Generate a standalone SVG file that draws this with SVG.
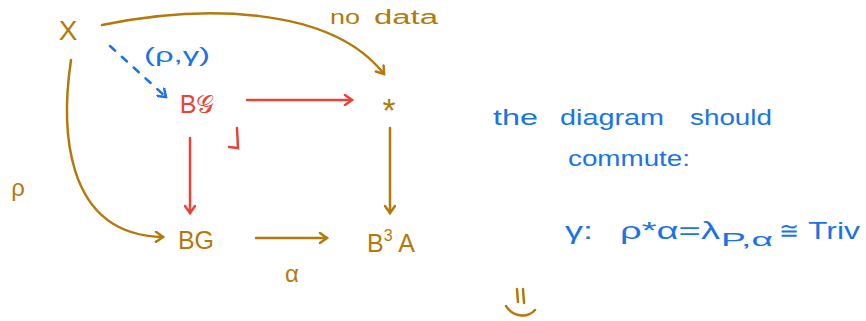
<svg xmlns="http://www.w3.org/2000/svg" width="866" height="321" viewBox="0 0 866 321">
<style>
.br{fill:#B5790B;font-family:"Liberation Sans",sans-serif}
.rd{fill:#EA4335;font-family:"Liberation Sans",sans-serif}
.bl{fill:#1A73E8;font-family:"Liberation Sans",sans-serif}
.lb{stroke:#B5790B;stroke-width:2.5;fill:none;stroke-linecap:round}
.lr{stroke:#EA4335;stroke-width:2.5;fill:none;stroke-linecap:round}
.lbl{stroke:#1A73E8;stroke-width:2.5;fill:none;stroke-linecap:round}
</style>
<defs>
<marker id="ab" markerWidth="12" markerHeight="12" refX="9" refY="6" orient="auto" markerUnits="userSpaceOnUse"><path d="M2,1 L9,6 L2,11" fill="none" stroke="#B5790B" stroke-width="2.5" stroke-linecap="round"/></marker>
<marker id="ar" markerWidth="12" markerHeight="12" refX="9" refY="6" orient="auto" markerUnits="userSpaceOnUse"><path d="M2,1 L9,6 L2,11" fill="none" stroke="#EA4335" stroke-width="2.5" stroke-linecap="round"/></marker>
<marker id="abl" markerWidth="12" markerHeight="12" refX="9" refY="6" orient="auto" markerUnits="userSpaceOnUse"><path d="M2,1 L9,6 L2,11" fill="none" stroke="#1A73E8" stroke-width="2.5" stroke-linecap="round"/></marker>
</defs>
<g id="X"><text class="br" x="68" y="40" font-size="28" text-anchor="middle">X</text></g>
<g id="BcalG"><text class="rd" x="197" y="113" font-size="25" text-anchor="middle">B𝒢</text></g>
<g id="star"><text class="br" x="389" y="122" font-size="34" text-anchor="middle">*</text></g>
<g id="BG"><text class="br" x="196" y="249" font-size="25" text-anchor="middle">BG</text></g>
<g id="B3A"><text class="br" x="391" y="252" font-size="25" text-anchor="middle">B<tspan font-size="16" dy="-11">3</tspan><tspan dy="11"> A</tspan></text></g>
<g id="connectors">
<path class="lb" d="M102,25 C200,5 330,5 384,74" marker-end="url(#ab)"/>
<path class="lbl" d="M110,46 L166,97" stroke-dasharray="7,9" marker-end="url(#abl)"/>
<path class="lr" d="M247,100 L352,100" marker-end="url(#ar)"/>
<path class="lr" d="M190,138 L190,213" marker-end="url(#ar)"/>
<path class="lb" d="M390,128 L390,213" marker-end="url(#ab)"/>
<path class="lb" d="M71,60 C62,120 60,235 163,237" marker-end="url(#ab)"/>
<path class="lb" d="M256,238 L327,238" marker-end="url(#ab)"/>
<path class="lr" d="M229,147 L238,148 L237,128"/>
</g>
<g id="labels">
<text class="br" x="330" y="24" font-size="20"><tspan textLength="30" lengthAdjust="spacingAndGlyphs">no</tspan><tspan x="374" textLength="64" lengthAdjust="spacingAndGlyphs">data</tspan></text>
<text class="bl" x="144" y="62" font-size="21" textLength="66" lengthAdjust="spacingAndGlyphs">(ρ,γ)</text>
<text class="br" x="18" y="196" font-size="24" text-anchor="middle">ρ</text>
<text class="br" x="292" y="282" font-size="24" text-anchor="middle">α</text>
<text class="bl" y="125" font-size="22"><tspan x="493" textLength="45" lengthAdjust="spacingAndGlyphs">the</tspan><tspan x="560" textLength="104" lengthAdjust="spacingAndGlyphs">diagram</tspan><tspan x="690" textLength="82" lengthAdjust="spacingAndGlyphs">should</tspan></text>
<text class="bl" x="568" y="166" font-size="22" textLength="122" lengthAdjust="spacingAndGlyphs">commute:</text>
<text class="bl" y="239" font-size="24"><tspan x="565" textLength="28" lengthAdjust="spacingAndGlyphs">γ:</tspan><tspan x="620" textLength="100" lengthAdjust="spacingAndGlyphs">ρ*α=λ</tspan><tspan x="721" dy="7" font-size="18" textLength="52" lengthAdjust="spacingAndGlyphs">P,α</tspan><tspan x="779" dy="-7">≅</tspan><tspan x="808" textLength="52" lengthAdjust="spacingAndGlyphs">Triv</tspan></text>
</g>
<g id="smiley">
<path class="lb" d="M517,289 L518,302 M523,289 L524,303"/>
<path class="lb" d="M506,306 C514,318 528,318 535,310"/>
</g>
</svg>
